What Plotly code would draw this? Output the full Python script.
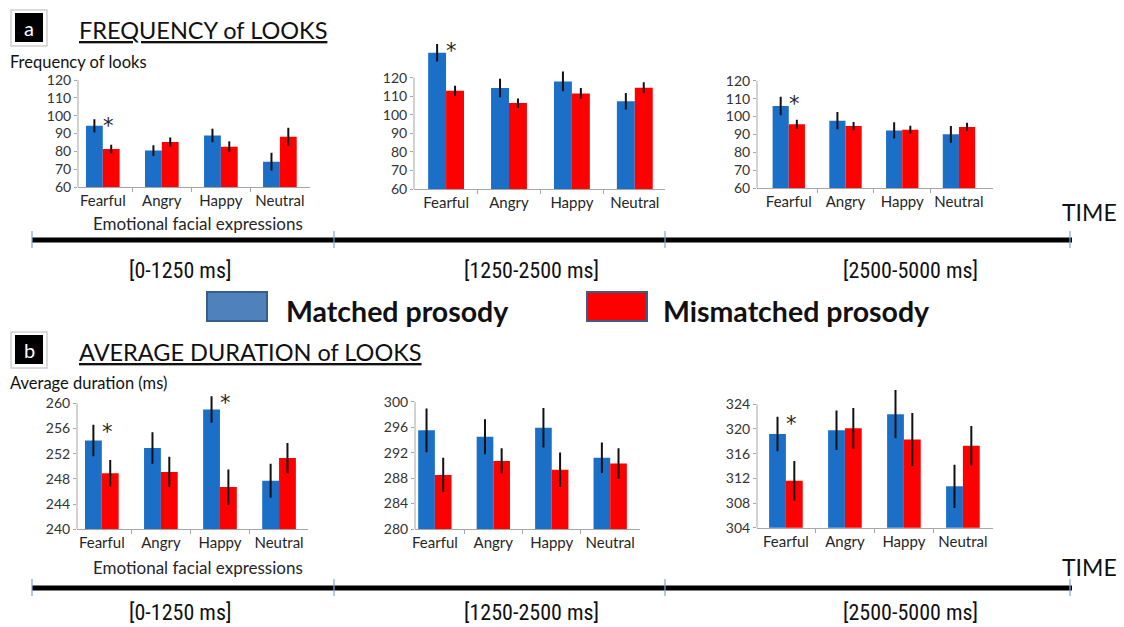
import plotly.graph_objects as go

W, H = 1124, 627

categories = ["Fearful", "Angry", "Happy", "Neutral"]
time_windows = ["[0-1250 ms]", "[1250-2500 ms]", "[2500-5000 ms]"]
series_names = ["Matched prosody", "Mismatched prosody"]

# Frequency of looks (panel a)
freq_t1_matched = [94.3, 80.4, 88.9, 74.2]
freq_t1_matched_err = [3.7, 3.0, 3.8, 5.0]
freq_t1_mismatched = [81.3, 85.2, 82.6, 88.2]
freq_t1_mismatched_err = [2.4, 2.6, 3.0, 5.0]
freq_t2_matched = [133.5, 114.4, 118.0, 107.3]
freq_t2_matched_err = [4.7, 5.0, 5.3, 4.5]
freq_t2_mismatched = [112.9, 106.3, 111.5, 114.6]
freq_t2_mismatched_err = [2.7, 2.5, 2.9, 2.9]
freq_t3_matched = [105.9, 97.7, 92.3, 90.1]
freq_t3_matched_err = [5.1, 4.8, 4.5, 4.7]
freq_t3_mismatched = [95.7, 94.7, 92.7, 94.2]
freq_t3_mismatched_err = [2.5, 2.3, 2.2, 2.3]

# Average duration of looks (panel b)
dur_t1_matched = [254.1, 252.9, 259.0, 247.7]
dur_t1_matched_err = [2.5, 2.5, 2.1, 2.7]
dur_t1_mismatched = [248.9, 249.1, 246.7, 251.3]
dur_t1_mismatched_err = [2.1, 2.4, 2.8, 2.4]
dur_t2_matched = [295.5, 294.5, 295.9, 291.2]
dur_t2_matched_err = [3.45, 2.75, 3.1, 2.4]
dur_t2_mismatched = [288.5, 290.7, 289.3, 290.3]
dur_t2_mismatched_err = [2.7, 2.0, 2.7, 2.4]
dur_t3_matched = [319.2, 319.8, 322.4, 310.7]
dur_t3_matched_err = [2.8, 3.2, 3.9, 3.5]
dur_t3_mismatched = [311.6, 320.1, 318.3, 317.3]
dur_t3_mismatched_err = [3.2, 3.3, 4.3, 3.2]

# significant (*) categories per window
freq_sig = [["Fearful"], ["Fearful"], ["Fearful"]]
dur_sig = [["Fearful", "Happy"], [], ["Fearful"]]

freq_ticks = [60, 70, 80, 90, 100, 110, 120]
dur_t1_ticks = [240, 244, 248, 252, 256, 260]
dur_t2_ticks = [280, 284, 288, 292, 296, 300]
dur_t3_ticks = [304, 308, 312, 316, 320, 324]

BLUE = "#1c6fc6"
RED = "#ff0000"
AXC = "#a6a6a6"
TXT = "#262626"
FONT = "Lato, 'Open Sans', sans-serif"


def px_x(p):
    return p / W


def px_y(p):
    return 1 - p / H


panels = [
    dict(m=freq_t1_matched, me=freq_t1_matched_err, r=freq_t1_mismatched, re=freq_t1_mismatched_err,
         ticks=freq_ticks, sig=freq_sig[0], xl=78, xr=310, yb=187, yt=80, yr=[60, 120], xrng=[-0.42, 3.51]),
    dict(m=freq_t2_matched, me=freq_t2_matched_err, r=freq_t2_mismatched, re=freq_t2_mismatched_err,
         ticks=freq_ticks, sig=freq_sig[1], xl=414, xr=665, yb=189, yt=40.6, yr=[60, 140], xrng=[-0.51, 3.48]),
    dict(m=freq_t3_matched, me=freq_t3_matched_err, r=freq_t3_mismatched, re=freq_t3_mismatched_err,
         ticks=freq_ticks, sig=freq_sig[2], xl=757, xr=993, yb=188.3, yt=80.7, yr=[60, 120], xrng=[-0.56, 3.6]),
    dict(m=dur_t1_matched, me=dur_t1_matched_err, r=dur_t1_mismatched, re=dur_t1_mismatched_err,
         ticks=dur_t1_ticks, sig=dur_sig[0], xl=77, xr=308, yb=529.3, yt=390.7, yr=[240, 262], xrng=[-0.42, 3.49]),
    dict(m=dur_t2_matched, me=dur_t2_matched_err, r=dur_t2_mismatched, re=dur_t2_mismatched_err,
         ticks=dur_t2_ticks, sig=dur_sig[1], xl=415, xr=640, yb=529, yt=401.7, yr=[280, 300], xrng=[-0.34, 3.51]),
    dict(m=dur_t3_matched, me=dur_t3_matched_err, r=dur_t3_mismatched, re=dur_t3_mismatched_err,
         ticks=dur_t3_ticks, sig=dur_sig[2], xl=757, xr=993, yb=527.7, yt=385.8, yr=[304, 327], xrng=[-0.49, 3.51]),
]

fig = go.Figure()
shapes = []
annotations = []
xpos = list(range(len(categories)))

for i, p in enumerate(panels):
    k = "" if i == 0 else str(i + 1)
    xa, ya = "x" + k, "y" + k
    fig.add_trace(go.Bar(x=xpos, y=p["m"], name=series_names[0], marker=dict(color=BLUE, line=dict(width=0)),
                         error_y=dict(type="data", array=p["me"], color="#111111", thickness=2, width=0),
                         xaxis=xa, yaxis=ya, showlegend=False))
    fig.add_trace(go.Bar(x=xpos, y=p["r"], name=series_names[1], marker=dict(color=RED, line=dict(width=0)),
                         error_y=dict(type="data", array=p["re"], color="#111111", thickness=2, width=0),
                         xaxis=xa, yaxis=ya, showlegend=False))
    fig.layout["xaxis" + k] = dict(
        domain=[px_x(p["xl"]), px_x(p["xr"])], anchor=ya, range=p["xrng"],
        tickmode="array", tickvals=xpos, ticktext=categories, ticks="",
        showline=True, linecolor=AXC, linewidth=1, showgrid=False, zeroline=False,
        tickfont=dict(family=FONT, size=15, color=TXT),
        minor=dict(tickvals=[0.5, 1.5, 2.5], ticks="outside", ticklen=4, tickcolor=AXC, tickwidth=1),
        fixedrange=True, automargin=False,
    )
    fig.layout["yaxis" + k] = dict(
        domain=[px_y(p["yb"]), px_y(p["yt"])], anchor=xa, range=p["yr"],
        tickmode="array", tickvals=p["ticks"], ticks="outside", ticklen=3, tickcolor=AXC,
        showline=False, showgrid=False, zeroline=False,
        tickfont=dict(family=FONT, size=14, color="#333333"),
        fixedrange=True, automargin=False,
    )
    shapes.append(dict(type="line", xref=xa + " domain", yref=ya, x0=0, x1=0,
                       y0=p["ticks"][0], y1=p["ticks"][-1], line=dict(color=AXC, width=1)))
    for c in p["sig"]:
        j = categories.index(c)
        annotations.append(dict(xref=xa, yref=ya, x=j, y=p["m"][j] + p["me"][j], text="*",
                                showarrow=False, xanchor="left", yanchor="top", xshift=-2, yshift=7,
                                font=dict(family="'DejaVu Sans', sans-serif", size=21, color=TXT)))

fig.update_layout(barmode="group", bargap=0.43, bargroupgap=0)

# timelines
tick_x = [32, 334, 665, 1070]
label_x = [180, 531, 910]
for ly, lab_y, time_y in [(240, 270, 212), (588, 612, 567)]:
    shapes.append(dict(type="line", xref="paper", yref="paper", x0=px_x(32), x1=px_x(1072),
                       y0=px_y(ly), y1=px_y(ly), line=dict(color="black", width=5)))
    for tx in tick_x:
        shapes.append(dict(type="line", xref="paper", yref="paper", x0=px_x(tx), x1=px_x(tx),
                           y0=px_y(ly - 9), y1=px_y(ly + 8), line=dict(color="#7fa7d6", width=1.2)))
    for lx, t in zip(label_x, time_windows):
        annotations.append(dict(xref="paper", yref="paper", x=px_x(lx), y=px_y(lab_y), text=t,
                                showarrow=False, xanchor="center", yanchor="middle",
                                font=dict(family="'Liberation Sans Narrow', 'Roboto Condensed', 'Liberation Sans', sans-serif",
                                          size=22, color="#111111")))
    annotations.append(dict(xref="paper", yref="paper", x=px_x(1089), y=px_y(time_y), text="TIME",
                            showarrow=False, xanchor="center", yanchor="middle",
                            font=dict(family=FONT, size=23, color="#111111")))

# panel letters and titles
for top, letter, title, ylab, ytxt, xlab_y in [
    (13, "a", "FREQUENCY of LOOKS", "Frequency of looks", 62, 224),
    (335, "b", "AVERAGE DURATION of LOOKS", "Average duration (ms)", 383, 567),
]:
    shapes.append(dict(type="rect", xref="paper", yref="paper", x0=px_x(11), x1=px_x(47),
                       y0=px_y(top + 33), y1=px_y(top - 3), line=dict(color="#d0d0d0", width=1.5),
                       fillcolor="white"))
    shapes.append(dict(type="rect", xref="paper", yref="paper", x0=px_x(15), x1=px_x(43),
                       y0=px_y(top + 29), y1=px_y(top), line=dict(width=0), fillcolor="black"))
    annotations.append(dict(xref="paper", yref="paper", x=px_x(29), y=px_y(top + 15), text=letter,
                            showarrow=False, xanchor="center", yanchor="middle",
                            font=dict(family=FONT, size=20, color="white")))
    annotations.append(dict(xref="paper", yref="paper", x=px_x(77), y=px_y(top + 17), text="<u>" + title + "</u>",
                            showarrow=False, xanchor="left", yanchor="middle",
                            font=dict(family=FONT, size=23.5, color="#111111")))
    annotations.append(dict(xref="paper", yref="paper", x=px_x(8), y=px_y(ytxt), text=ylab,
                            showarrow=False, xanchor="left", yanchor="middle",
                            font=dict(family=FONT, size=16.5, color="#111111")))
    annotations.append(dict(xref="paper", yref="paper", x=px_x(198), y=px_y(xlab_y), text="Emotional facial expressions",
                            showarrow=False, xanchor="center", yanchor="middle",
                            font=dict(family=FONT, size=17, color=TXT)))

# legend
for bx, fill, tx, name in [(207, "#4f81bd", 284, series_names[0]), (587, RED, 661, series_names[1])]:
    shapes.append(dict(type="rect", xref="paper", yref="paper", x0=px_x(bx), x1=px_x(bx + 60),
                       y0=px_y(321), y1=px_y(292), fillcolor=fill, line=dict(color="#385d8a", width=2)))
    annotations.append(dict(xref="paper", yref="paper", x=px_x(tx), y=px_y(311), text="<b>" + name + "</b>",
                            showarrow=False, xanchor="left", yanchor="middle",
                            font=dict(family=FONT, size=28.5, color="#111111")))

fig.update_layout(
    width=W, height=H, margin=dict(l=0, r=0, t=0, b=0, autoexpand=False),
    paper_bgcolor="white", plot_bgcolor="white",
    shapes=shapes, annotations=annotations, showlegend=False,
)

fig.write_html(
    "out.html",
    config={"displayModeBar": False},
    post_script="document.body.style.margin='0';document.body.style.overflow='hidden';",
)
